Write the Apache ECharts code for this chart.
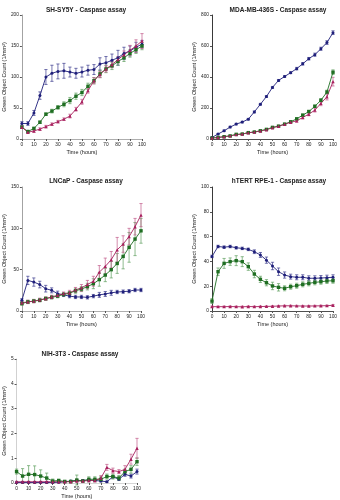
<!DOCTYPE html>
<html><head><meta charset="utf-8">
<script src="https://cdn.jsdelivr.net/npm/echarts@6/dist/echarts.min.js"></script>
<style>html,body{margin:0;padding:0;background:#fff}#c{width:340px;height:500px}</style>
</head><body><div id="c"></div>
<script>
const times = [0,5,10,15,20,25,30,35,40,45,50,55,60,65,70,75,80,85,90,95,100];
const xTicks = [0,10,20,30,40,50,60,70,80,90,100];
const titles = ['SH-SY5Y - Caspase assay','MDA-MB-436S - Caspase assay','LNCaP - Caspase assay','hTERT RPE-1 - Caspase assay','NIH-3T3 - Caspase assay'];
const yMax = [200, 800, 150, 100, 5];
const yStep = [50, 200, 50, 20, 1];

// SH-SY5Y
const shBlue = [25,25,42,70,100,106,109,110,108,106,108,111,112,121,123,127,131,138,142,148,153];
const shBlueErr = [3,3,4,6,12,13,12,12,8,8,8,8,8,10,10,10,12,10,8,8,6];
const shGreen = [19,12,17,27,40,45,51,56,62,69,75,85,94,105,113,118,125,131,138,144,150];
const shGreenErr = [2,2,2,2,2,3,3,4,5,5,5,5,5,6,6,6,6,6,6,6,6];
const shPink = [19,11,13,16,20,24,28,32,37,48,60,78,94,104,113,120,128,136,143,150,158];
const shPinkErr = [2,2,2,2,2,2,2,2,3,3,4,4,5,5,5,5,5,6,8,10,12];
// MDA-MB-436S
const mdBlue = [10,32,53,77,96,109,128,175,224,274,333,378,403,428,454,485,518,544,582,622,686];
const mdBlueErr = [3,4,5,5,5,5,5,6,6,6,6,6,6,6,8,8,8,10,10,12,12];
const mdGreen = [6,10,15,20,30,32,41,45,53,62,75,83,96,111,130,154,177,211,250,303,431];
const mdGreenErr = [2,2,2,2,2,2,3,3,3,3,4,4,5,5,6,6,8,8,10,12,15];
const mdPink = [6,10,15,20,28,32,40,45,52,60,73,82,95,108,117,139,160,186,230,272,370];
const mdPinkErr = [2,2,2,2,2,2,3,3,3,3,4,4,5,6,8,8,10,12,15,20,28];
// LNCaP
const lnBlue = [13,37,35,32,27,25,21,19.5,18,17,17,16.5,18,19.5,20.6,22,23,23.4,24,25.4,25.4];
const lnBlueErr = [2,5,5,4,4,3,3,2,2,2,2,2,2,3,3,3,2,2,2,2,2];
const lnGreen = [9,11,12,13,15,16.5,18,20,21.5,24.5,26.5,29.5,33,38,43.5,50,57.5,66,77,87,97];
const lnGreenErr = [2,2,2,2,2,2,2,2,2,3,3,4,6,8,8,10,12,15,18,20,15];
const lnPink = [10,11,12,13.5,15,17,19,21,22,25.5,28,32,36,47,54,62,74,81,90,102,116];
const lnPinkErr = [2,2,2,2,2,2,2,2,3,3,4,5,6,8,10,10,15,10,10,10,14];
// hTERT RPE-1
const htBlue = [44,52,51.5,52,51,50.5,49.7,47.8,45.2,41,36.3,31.7,29,27.7,27.2,27.2,26.4,26.4,26.6,26.9,27.2];
const htBlueErr = [1,1,1,1,1,1,1,1.5,2,2.5,3,3,2.5,2,2,2,2,2,2,2,2];
const htGreen = [8,31.7,38.4,39.8,40.6,39.8,35.8,29.8,25.5,22.8,20.2,19.1,18.3,19.6,20.4,21.5,22.3,23.1,23.6,24.2,24.4];
const htGreenErr = [2,3,4,3,4,4,3,3,2.5,2.5,3,3,2,2,2,2,2,2,2,2,2];
const htPink = [3.5,3.5,3.5,3.6,3.5,3.4,3.6,3.5,3.6,3.7,3.8,4,4.2,4.2,4.1,4,4,4.1,4.2,4.3,4.6];
const htPinkErr = [0.5,0.5,0.5,0.5,0.5,0.5,0.5,0.5,0.5,0.5,0.5,0.5,0.5,0.5,0.5,0.5,0.5,0.5,0.5,0.5,0.6];
// NIH-3T3
const niBlue = [0.02,0.02,0.02,0.02,0.02,0.02,0.02,0.03,0.05,0.08,0.1,0.1,0.12,0.1,0.08,0.05,0.25,0.15,0.35,0.28,0.46];
const niBlueErr = [0.02,0.02,0.02,0.02,0.02,0.02,0.02,0.02,0.02,0.02,0.03,0.03,0.03,0.03,0.03,0.03,0.05,0.05,0.08,0.08,0.1];
const niGreen = [0.46,0.28,0.35,0.34,0.28,0.2,0.08,0.1,0.06,0.06,0.12,0.08,0.15,0.15,0.15,0.26,0.26,0.2,0.46,0.55,0.86];
const niGreenErr = [0.1,0.3,0.35,0.35,0.25,0.2,0.08,0.05,0.05,0.05,0.2,0.05,0.1,0.1,0.1,0.1,0.1,0.1,0.1,0.15,0.15];
const niPink = [0.05,0.05,0.05,0.05,0.05,0.05,0.05,0.05,0.05,0.05,0.08,0.08,0.1,0.1,0.2,0.63,0.5,0.46,0.55,0.96,1.4];
const niPinkErr = [0.02,0.02,0.02,0.02,0.02,0.02,0.02,0.02,0.02,0.02,0.03,0.03,0.05,0.05,0.1,0.12,0.1,0.08,0.15,0.2,0.4];

const panels = [
  [shBlue,shBlueErr,shGreen,shGreenErr,shPink,shPinkErr],
  [mdBlue,mdBlueErr,mdGreen,mdGreenErr,mdPink,mdPinkErr],
  [lnBlue,lnBlueErr,lnGreen,lnGreenErr,lnPink,lnPinkErr],
  [htBlue,htBlueErr,htGreen,htGreenErr,htPink,htPinkErr],
  [niBlue,niBlueErr,niGreen,niGreenErr,niPink,niPinkErr]
];

const grids = [
  {left:19, top:15, width:123, height:124},
  {left:212, top:15, width:122, height:124},
  {left:18, top:187, width:123, height:124},
  {left:212, top:187, width:122, height:124},
  {left:13, top:359, width:124, height:124}
];
const titlePos = [[81,2],[273,2],[81,173],[274,173],[75,346]];
const axisColors = ['#999','#222','#999','#222','#ccc'];
const FONT = 'Liberation Sans, Arial, sans-serif';
const colors = ['#1f1f7a','#1f6e22','#a8205e'];
const errColors = ['#3a3a8c','#5f9f5f','#c25a8a'];
const symbols = ['circle','rect','triangle'];

function errRender(params, api) {
  const x = api.value(0), lo = api.value(1), hi = api.value(2);
  const a = api.coord([x, lo]), b = api.coord([x, hi]);
  const w = 1.6;
  const st = {stroke: api.visual('color'), lineWidth: 0.7};
  return {type:'group', children:[
    {type:'line', shape:{x1:a[0],y1:a[1],x2:b[0],y2:b[1]}, style:st},
    {type:'line', shape:{x1:a[0]-w,y1:a[1],x2:a[0]+w,y2:a[1]}, style:st},
    {type:'line', shape:{x1:b[0]-w,y1:b[1],x2:b[0]+w,y2:b[1]}, style:st}
  ]};
}

const option = {animation:false, grid:[], xAxis:[], yAxis:[], series:[], title:[]};
panels.forEach((p, i) => {
  option.grid.push(grids[i]);
  option.title.push({text:titles[i], left:titlePos[i][0], top:titlePos[i][1], textAlign:'center',
    textStyle:{fontSize:6.5, fontWeight:'bold', fontFamily:FONT, color:'#222'}});
  option.xAxis.push({type:'value', gridIndex:i, min:0, max:100, interval:10,
    name:'Time (hours)', nameLocation:'middle', nameGap:10,
    nameTextStyle:{fontSize:5.5, fontFamily:FONT, color:'#222'},
    axisLine:{lineStyle:{color:axisColors[i], width:0.8}}, axisTick:{length:2, lineStyle:{color:'#555'}},
    axisLabel:{fontSize:4.8, fontFamily:FONT, color:'#222', margin:3, customValues:xTicks},
    splitLine:{show:false}});
  option.yAxis.push({type:'value', gridIndex:i, min:0, max:yMax[i], interval:yStep[i],
    name:'Green Object Count (1/mm²)', nameLocation:'middle', nameGap: i===4 ? 9 : 13,
    nameTextStyle:{fontSize:5.5, fontFamily:FONT, color:'#222'},
    axisLine:{show:true, lineStyle:{color:axisColors[i], width:0.9}},
    axisTick:{show:true, length:2, lineStyle:{color:'#555'}},
    axisLabel:{fontSize:4.8, fontFamily:FONT, color:'#222', margin:3},
    splitLine:{show:false}});
  for (let s = 0; s < 3; s++) {
    const vals = p[s*2], errs = p[s*2+1];
    option.series.push({type:'custom', xAxisIndex:i, yAxisIndex:i, renderItem:errRender,
      itemStyle:{color:errColors[s]}, z:1,
      data: times.map((t, k) => [t, vals[k]-errs[k], vals[k]+errs[k]])});
    option.series.push({type:'line', xAxisIndex:i, yAxisIndex:i, symbol:symbols[s],
      symbolSize: s===0 ? 3 : 3.4, showSymbol:true, z:2,
      lineStyle:{color:colors[s], width:0.9}, itemStyle:{color:colors[s]},
      data: times.map((t, k) => [t, vals[k]])});
  }
});
const chart = echarts.init(document.getElementById('c'), null, {renderer:'canvas'});
chart.setOption(option);
</script></body></html>
